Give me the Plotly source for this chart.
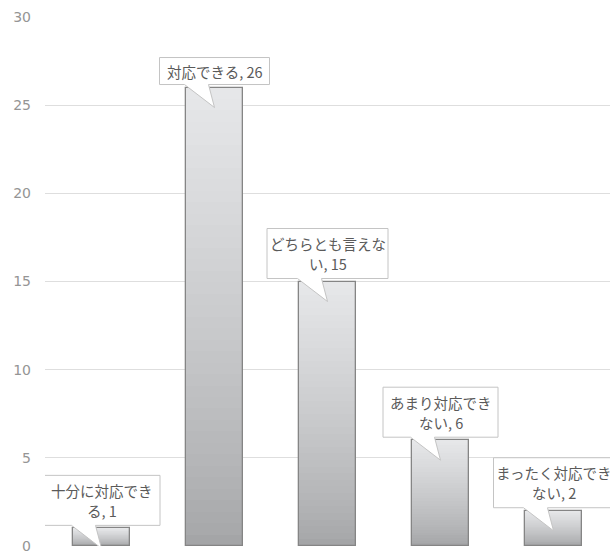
import plotly.graph_objects as go

# Survey responses and their counts
categories = ["十分に対応できる", "対応できる", "どちらとも言えない", "あまり対応できない", "まったく対応できない"]
counts = [1, 26, 15, 6, 2]
# Callout text, split where the line wraps
label_lines = [
    ["十分に対応でき", "る, 1"],
    ["対応できる, 26"],
    ["どちらとも言えな", "い, 15"],
    ["あまり対応でき", "ない, 6"],
    ["まったく対応でき", "ない, 2"],
]
y_ticks = [0, 5, 10, 15, 20, 25, 30]

# Callout box widths in pixels
box_widths = [117, 110, 121, 115, 120]

xs = list(range(len(categories)))
fig = go.Figure()

# Vertical grey gradient inside each bar: stacked overlays, darker toward the base
steps = 40
top_rgb = (230, 231, 233)
bot_rgb = (164, 165, 167)
for k in range(steps, 0, -1):
    t = ((k - 1) / (steps - 1)) ** 0.8
    c = tuple(round(bot_rgb[i] + (top_rgb[i] - bot_rgb[i]) * t) for i in range(3))
    fig.add_trace(go.Bar(
        x=xs, y=[v * k / steps for v in counts], width=0.5,
        marker=dict(color="rgb(%d,%d,%d)" % c, line=dict(width=0)),
        hoverinfo="skip", showlegend=False,
    ))
# Bar outline
fig.add_trace(go.Bar(
    x=xs, y=counts, width=0.5,
    marker=dict(color="rgba(0,0,0,0)", line=dict(color="#858585", width=1.3)),
    showlegend=False, hovertext=categories, hoverinfo="text+y",
))

# Speech-bubble data labels
line_gap = 20
for i, (v, lines, w) in enumerate(zip(counts, label_lines, box_widths)):
    h = 27 if len(lines) == 1 else 50
    gap = 3
    tip = -20
    hw = w / 2
    path = (f"M {-hw},{gap} L -30,{gap} L 0,{tip} L -6,{gap} L {hw},{gap} "
            f"L {hw},{gap + h} L {-hw},{gap + h} Z")
    fig.add_shape(
        type="path", path=path, xref="x", yref="y",
        xsizemode="pixel", ysizemode="pixel", xanchor=i, yanchor=v,
        fillcolor="white", line=dict(color="#c4c4c4", width=1), layer="above",
    )
    mid = gap + h / 2
    n = len(lines)
    for j, line in enumerate(lines):
        fig.add_annotation(
            x=i, y=v, xref="x", yref="y",
            yshift=mid + ((n - 1) / 2 - j) * line_gap,
            text=line, showarrow=False,
            font=dict(family="Noto Sans CJK JP", size=14.5, color="#5a5a5a"),
            align="center", yanchor="middle",
        )

fig.update_layout(
    width=612, height=553,
    margin=dict(l=45, r=2, t=17, b=7, autoexpand=False),
    paper_bgcolor="white", plot_bgcolor="white",
    barmode="overlay", bargap=0,
    xaxis=dict(range=[-0.5, 4.5], showticklabels=False, showgrid=False,
               zeroline=False, showline=False, ticks="", automargin=False),
    yaxis=dict(range=[0, 30], tickvals=y_ticks, showgrid=True, gridcolor="#dedede",
               gridwidth=1, zeroline=False, showline=False, ticks="",
               automargin=False, ticklabelstandoff=13, ticklabeloverflow="allow",
               tickfont=dict(family="DejaVu Sans", size=14, color="#959595")),
)

fig.write_html("out.html")
